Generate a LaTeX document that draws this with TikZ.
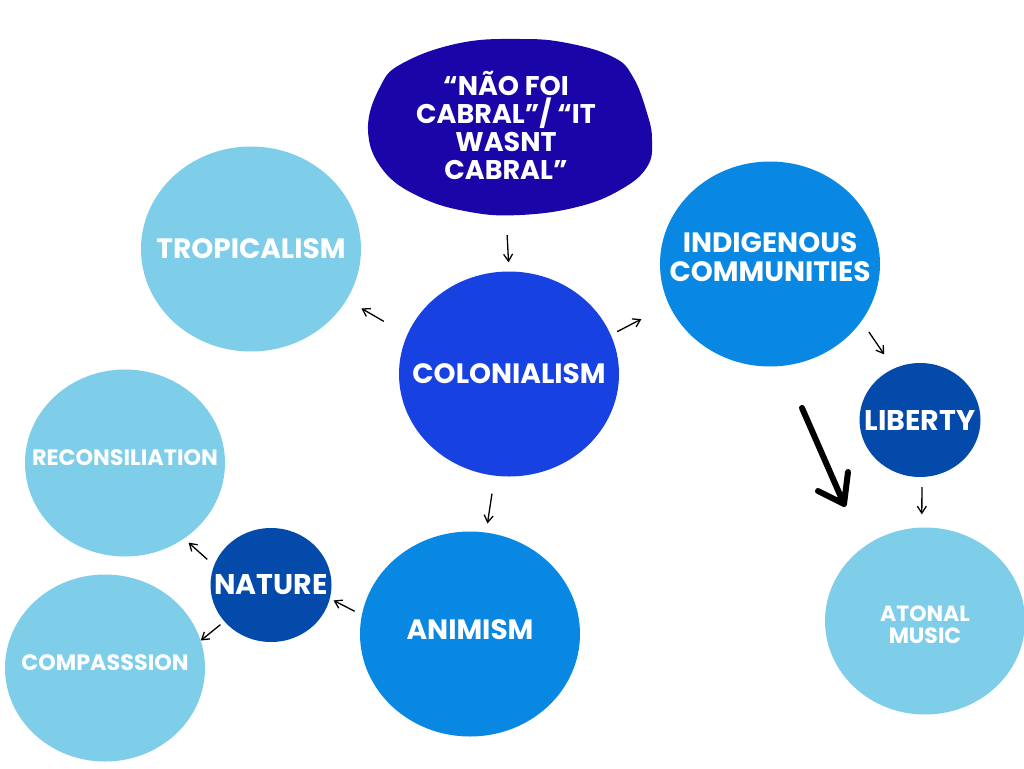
\documentclass[tikz,border=0pt]{standalone}
\usepackage{fontspec}
\setmainfont{Poppins}
\usepackage{tikz}
\usetikzlibrary{arrows.meta,shapes.geometric}
\definecolor{inkBlue}{RGB}{26,5,168}
\definecolor{coloBlue}{RGB}{23,65,224}
\definecolor{skyBlue}{RGB}{8,135,227}
\definecolor{royalBlue}{RGB}{3,74,171}
\definecolor{paleBlue}{RGB}{126,206,233}
\tikzset{
  bubble/.style={
    ellipse, draw=none, inner xsep=-80pt, inner ysep=0pt, text=white,
    align=center, font=\bfseries\fontsize{28}{29}\selectfont
  },
  bigbubble/.style={bubble, minimum width=220pt, minimum height=205pt},
  midbubble/.style={bubble, minimum width=200pt, minimum height=187pt,
    font=\bfseries\fontsize{22.3}{22}\selectfont},
  smallbubble/.style={bubble, minimum width=121pt, minimum height=114pt,
    font=\bfseries\fontsize{28.5}{28}\selectfont},
  raised/.style={text depth=#1},
  thinArrow/.style={-{Straight Barb[length=7pt,width=9pt]}, line width=1.3pt, color=black},
  penArrow/.style={line width=6pt, line cap=round, line join=round, color=black}
}
\begin{document}
\begin{tikzpicture}[x=1pt, y=-1pt]
  \fill[white] (0,0) rectangle (1024,768);
  \useasboundingbox (0,0) rectangle (1024,768);
  \fill[inkBlue] plot[smooth cycle, tension=0.7] coordinates {
    (368,130) (380,87) (403,63) (460,43) (520,39) (567,43) (613,57) (633,77)
    (647,113) (652,140) (647,167) (620,190) (577,207) (520,215) (470,212)
    (420,197) (383,170)};
  \node[bubble, minimum width=284pt, minimum height=176pt,
        font=\bfseries\fontsize{27}{28}\selectfont] (cabral) at (506,125)
        {“NÃO FOI\\CABRAL”/ “IT\\WASNT\\CABRAL”};
  \node[bigbubble, fill=paleBlue]     (trop)    at (251,249) {TROPICALISM};
  \node[bigbubble, fill=coloBlue]     (colon)   at (509,374) {COLONIALISM};
  \node[bigbubble, fill=skyBlue, raised=14pt]
                                      (indig)   at (770,264) {INDIGENOUS\\COMMUNITIES};
  \node[bigbubble, fill=skyBlue, raised=9pt]
                                      (anim)    at (470,634) {ANIMISM};
  \node[smallbubble, fill=royalBlue]  (liberty) at (920,420) {LIBERTY};
  \node[smallbubble, fill=royalBlue]  (nature)  at (271,585) {NATURE};
  \node[midbubble, fill=paleBlue, font=\bfseries\fontsize{22}{22}\selectfont,
        text height=46pt]             (atonal)  at (925,621) {ATONAL\\MUSIC};
  \node[midbubble, fill=paleBlue, raised=11pt]
                                      (recon)   at (125,463) {RECONSILIATION};
  \node[midbubble, fill=paleBlue, raised=11pt]
                                      (compas)  at (105,668) {COMPASSSION};
  \draw[thinArrow, shorten <=22pt, shorten >=9pt]  (cabral.south) -- (colon.north);
  \draw[thinArrow, shorten <=27pt, shorten >=17pt] (colon.159)    -- (trop.-28);
  \draw[thinArrow, shorten <=7pt,  shorten >=31pt] (colon.21)     -- (indig.-158);
  \draw[thinArrow, shorten <=13pt, shorten >=17pt] (indig.-32)    -- (liberty.117);
  \draw[thinArrow, shorten <=10pt, shorten >=13pt] (liberty.-88)  -- (atonal.92);
  \draw[thinArrow, shorten <=18pt, shorten >=9pt]  (colon.-98)    -- (anim.81);
  \draw[thinArrow, shorten <=8pt,  shorten >=4pt]  (anim.170)     -- (nature.-13);
  \draw[thinArrow, shorten <=9pt,  shorten >=6pt]  (nature.161)   -- (recon.-52);
  \draw[thinArrow, shorten <=5pt]                  (nature.-142)  -- (compas.16);
  \coordinate (penTop)   at (802,408);
  \coordinate (penTip)   at (844,504);
  \coordinate (penLeft)  at (818,491);
  \coordinate (penRight) at (848,472);
  \draw[penArrow] (penTop) -- (penTip) (penLeft) -- (penTip) -- (penRight);
\end{tikzpicture}
\end{document}
